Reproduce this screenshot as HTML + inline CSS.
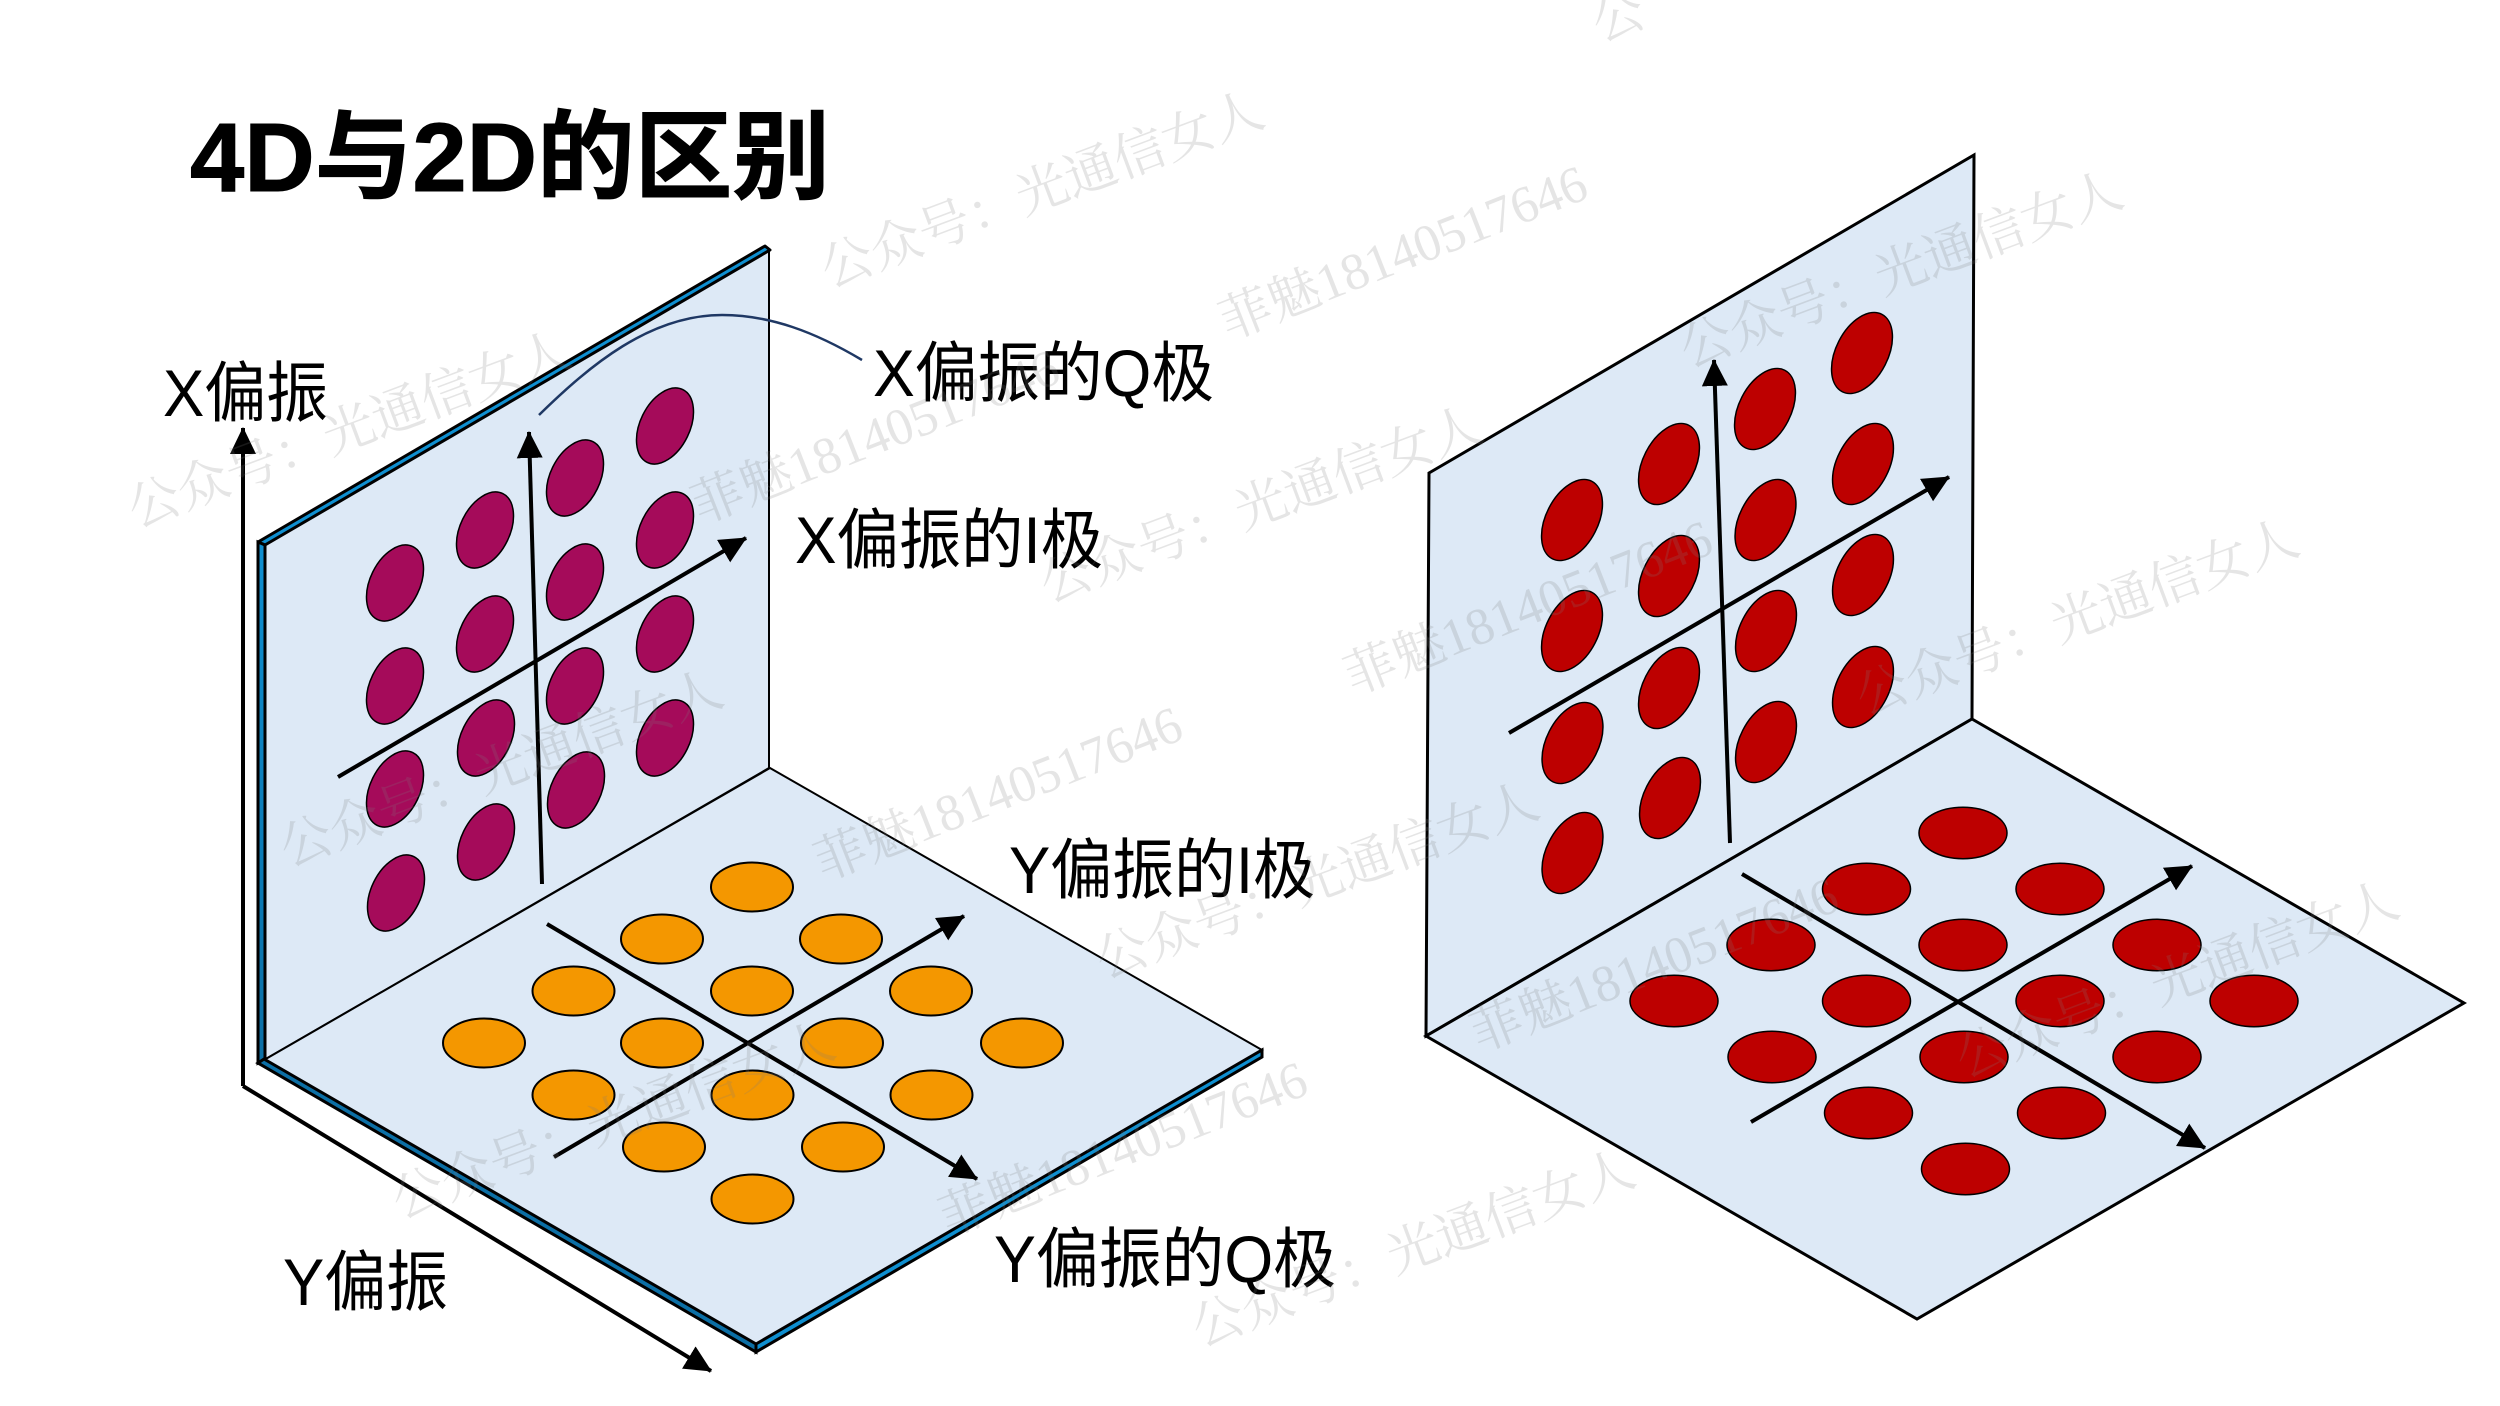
<!DOCTYPE html>
<html lang="zh-CN">
<head>
<meta charset="utf-8">
<title>4D与2D的区别</title>
<style>
html,body{margin:0;padding:0;background:#fff;width:2500px;height:1406px;overflow:hidden}
svg{display:block}
.t{font-family:"Liberation Sans","Noto Sans CJK SC",sans-serif;font-size:66px;fill:#000}
.h{font-family:"Liberation Sans","Noto Sans CJK SC",sans-serif;font-size:97px;font-weight:700;fill:#000;stroke:#000;stroke-width:1}
.w{font-family:"Liberation Serif","Noto Serif CJK SC",serif;font-size:52px;fill:#7f7f7f;fill-opacity:.2}
.p{fill:#a50b5a;stroke:#000;stroke-width:1.5}
.o{fill:#f49700;stroke:#000;stroke-width:2}
.r{fill:#bd0000;stroke:#000;stroke-width:1.5}
.a{fill:none;stroke:#000;stroke-width:4;marker-end:url(#ah)}
</style>
</head>
<body>
<svg width="2500" height="1406" viewBox="0 0 2500 1406" xmlns="http://www.w3.org/2000/svg">
<defs>
<marker id="ah" markerUnits="userSpaceOnUse" markerWidth="28" markerHeight="28" refX="26" refY="13" orient="auto">
<path d="M0 0L27 13L0 26Z" fill="#000"/>
</marker>
<linearGradient id="band" x1="0" y1="0" x2="0" y2="1">
<stop offset="0" stop-color="#0f8fd0"/>
<stop offset="1" stop-color="#0c6fa5"/>
</linearGradient>
</defs>

<!-- Left panel -->
<polygon points="264,544 769,250 769,768 264,1060" fill="#dde9f6" stroke="#000" stroke-width="2"/>
<polygon points="770,768 1262,1050 756,1344 264,1060" fill="#dde9f6" stroke="#000" stroke-width="2"/>
<polygon points="258,542 765,246 770,250 265,545" fill="#0f8fd0" stroke="#000" stroke-width="3" stroke-linejoin="round"/>
<polygon points="258,542 265,545 265,1059 258,1063" fill="url(#band)" stroke="#000" stroke-width="3"/>
<polygon points="258,1063 264,1059 756,1344 756,1352" fill="#0c6fa5" stroke="#000" stroke-width="3"/>
<polygon points="756,1344 1262,1050 1262,1057 756,1352" fill="#0f8fd0" stroke="#000" stroke-width="3"/>

<path class="a" d="M243 1086L243 428"/>
<path class="a" d="M243 1086L711 1371"/>
<path d="M539 415C590 365 650 315 722 315C770 315 815 332 862 360" fill="none" stroke="#1f3864" stroke-width="2.5"/>

<g class="p">
<ellipse cx="665" cy="426" rx="24.8" ry="40.5" transform="rotate(26 665 426)"/>
<ellipse cx="665" cy="530" rx="24.8" ry="40.5" transform="rotate(26 665 530)"/>
<ellipse cx="665" cy="634" rx="24.8" ry="40.5" transform="rotate(26 665 634)"/>
<ellipse cx="665" cy="738" rx="24.8" ry="40.5" transform="rotate(26 665 738)"/>
<ellipse cx="575" cy="478" rx="24.8" ry="40.5" transform="rotate(26 575 478)"/>
<ellipse cx="575" cy="582" rx="24.8" ry="40.5" transform="rotate(26 575 582)"/>
<ellipse cx="575" cy="686" rx="24.8" ry="40.5" transform="rotate(26 575 686)"/>
<ellipse cx="576" cy="790" rx="24.8" ry="40.5" transform="rotate(26 576 790)"/>
<ellipse cx="485" cy="530" rx="24.8" ry="40.5" transform="rotate(26 485 530)"/>
<ellipse cx="485" cy="634" rx="24.8" ry="40.5" transform="rotate(26 485 634)"/>
<ellipse cx="486" cy="738" rx="24.8" ry="40.5" transform="rotate(26 486 738)"/>
<ellipse cx="486" cy="842" rx="24.8" ry="40.5" transform="rotate(26 486 842)"/>
<ellipse cx="395" cy="583" rx="24.8" ry="40.5" transform="rotate(26 395 583)"/>
<ellipse cx="395" cy="686" rx="24.8" ry="40.5" transform="rotate(26 395 686)"/>
<ellipse cx="395" cy="789" rx="24.8" ry="40.5" transform="rotate(26 395 789)"/>
<ellipse cx="396" cy="893" rx="24.8" ry="40.5" transform="rotate(26 396 893)"/>
</g>
<path class="a" d="M542 884L529 432"/>
<path class="a" d="M338 777L746 538"/>

<g class="o">
<ellipse cx="752" cy="887" rx="41" ry="24.5"/>
<ellipse cx="662" cy="939" rx="41" ry="24.5"/>
<ellipse cx="841" cy="939" rx="41" ry="24.5"/>
<ellipse cx="573.5" cy="991" rx="41" ry="24.5"/>
<ellipse cx="752" cy="991" rx="41" ry="24.5"/>
<ellipse cx="931" cy="991" rx="41" ry="24.5"/>
<ellipse cx="484" cy="1043" rx="41" ry="24.5"/>
<ellipse cx="662" cy="1043" rx="41" ry="24.5"/>
<ellipse cx="842" cy="1043" rx="41" ry="24.5"/>
<ellipse cx="1022" cy="1043" rx="41" ry="24.5"/>
<ellipse cx="573.5" cy="1095" rx="41" ry="24.5"/>
<ellipse cx="752.5" cy="1095" rx="41" ry="24.5"/>
<ellipse cx="931.5" cy="1095" rx="41" ry="24.5"/>
<ellipse cx="664" cy="1147" rx="41" ry="24.5"/>
<ellipse cx="843" cy="1147" rx="41" ry="24.5"/>
<ellipse cx="752.5" cy="1199" rx="41" ry="24.5"/>
</g>
<path class="a" d="M547 924L977 1179"/>
<path class="a" d="M554 1157L964 916"/>

<!-- Right panel -->
<polygon points="1429,473 1974,155 1972,719 1426,1036" fill="#dde9f6" stroke="#000" stroke-width="3"/>
<polygon points="1972,719 2464,1003 1917,1319 1426,1036" fill="#dde9f6" stroke="#000" stroke-width="3"/>
<g class="r">
<ellipse cx="1862" cy="353" rx="26" ry="43.5" transform="rotate(27 1862 353)"/>
<ellipse cx="1863" cy="464" rx="26" ry="43.5" transform="rotate(27 1863 464)"/>
<ellipse cx="1863" cy="575" rx="26" ry="43.5" transform="rotate(27 1863 575)"/>
<ellipse cx="1863" cy="687" rx="26" ry="43.5" transform="rotate(27 1863 687)"/>
<ellipse cx="1765" cy="409" rx="26" ry="43.5" transform="rotate(27 1765 409)"/>
<ellipse cx="1765.5" cy="520" rx="26" ry="43.5" transform="rotate(27 1765.5 520)"/>
<ellipse cx="1766" cy="631" rx="26" ry="43.5" transform="rotate(27 1766 631)"/>
<ellipse cx="1766" cy="742" rx="26" ry="43.5" transform="rotate(27 1766 742)"/>
<ellipse cx="1669" cy="464" rx="26" ry="43.5" transform="rotate(27 1669 464)"/>
<ellipse cx="1669" cy="576" rx="26" ry="43.5" transform="rotate(27 1669 576)"/>
<ellipse cx="1669" cy="688" rx="26" ry="43.5" transform="rotate(27 1669 688)"/>
<ellipse cx="1670" cy="798" rx="26" ry="43.5" transform="rotate(27 1670 798)"/>
<ellipse cx="1572" cy="520" rx="26" ry="43.5" transform="rotate(27 1572 520)"/>
<ellipse cx="1572" cy="631" rx="26" ry="43.5" transform="rotate(27 1572 631)"/>
<ellipse cx="1572.5" cy="743" rx="26" ry="43.5" transform="rotate(27 1572.5 743)"/>
<ellipse cx="1572.5" cy="853" rx="26" ry="43.5" transform="rotate(27 1572.5 853)"/>
</g>
<path class="a" d="M1730 843L1714 360"/>
<path class="a" d="M1509 733L1949 477"/>
<g class="r">
<ellipse cx="1963" cy="833" rx="44" ry="25.7"/>
<ellipse cx="1866.5" cy="889" rx="44" ry="25.7"/>
<ellipse cx="2060" cy="889" rx="44" ry="25.7"/>
<ellipse cx="1771" cy="945" rx="44" ry="25.7"/>
<ellipse cx="1963" cy="945" rx="44" ry="25.7"/>
<ellipse cx="2157" cy="945" rx="44" ry="25.7"/>
<ellipse cx="1674" cy="1001" rx="44" ry="25.7"/>
<ellipse cx="1866.5" cy="1001" rx="44" ry="25.7"/>
<ellipse cx="2060" cy="1001" rx="44" ry="25.7"/>
<ellipse cx="2254" cy="1001" rx="44" ry="25.7"/>
<ellipse cx="1772" cy="1057" rx="44" ry="25.7"/>
<ellipse cx="1964" cy="1057" rx="44" ry="25.7"/>
<ellipse cx="2157" cy="1057" rx="44" ry="25.7"/>
<ellipse cx="1868.5" cy="1113" rx="44" ry="25.7"/>
<ellipse cx="2061.5" cy="1113" rx="44" ry="25.7"/>
<ellipse cx="1965.5" cy="1169" rx="44" ry="25.7"/>
</g>
<path class="a" d="M1742 874L2205 1148"/>
<path class="a" d="M1751 1122L2192 866"/>

<!-- Text -->
<text class="h" x="190" y="191" textLength="640" lengthAdjust="spacingAndGlyphs">4D与2D的区别</text>
<text class="t" x="163" y="416" textLength="165" lengthAdjust="spacingAndGlyphs">X偏振</text>
<text class="t" x="873" y="396" textLength="341" lengthAdjust="spacingAndGlyphs">X偏振的Q极</text>
<text class="t" x="795" y="563" textLength="308" lengthAdjust="spacingAndGlyphs">X偏振的I极</text>
<text class="t" x="1009" y="893" textLength="306" lengthAdjust="spacingAndGlyphs">Y偏振的I极</text>
<text class="t" x="994" y="1282" textLength="342" lengthAdjust="spacingAndGlyphs">Y偏振的Q极</text>
<text class="t" x="283" y="1305" textLength="165" lengthAdjust="spacingAndGlyphs">Y偏振</text>

<!-- Watermarks -->
<g class="w">
<text transform="translate(829 288) rotate(-20.5)">公众号：光通信女人</text>
<text transform="translate(136 528) rotate(-20.5)">公众号：光通信女人</text>
<text transform="translate(1048 603) rotate(-20.5)">公众号：光通信女人</text>
<text transform="translate(1688 368) rotate(-20.5)">公众号：光通信女人</text>
<text transform="translate(288 867) rotate(-20.5)">公众号：光通信女人</text>
<text transform="translate(1104 979) rotate(-20.5)">公众号：光通信女人</text>
<text transform="translate(1864 716) rotate(-20.5)">公众号：光通信女人</text>
<text transform="translate(1964 1078) rotate(-20.5)">公众号：光通信女人</text>
<text transform="translate(400 1219) rotate(-20.5)">公众号：光通信女人</text>
<text transform="translate(1200 1347) rotate(-20.5)">公众号：光通信女人</text>
<text transform="translate(1600 42) rotate(-20.5)">公</text>
<text transform="translate(1228 340) rotate(-21.5)">菲魅18140517646</text>
<text transform="translate(700 524) rotate(-21.5)">菲魅18140517646</text>
<text transform="translate(1353 695) rotate(-21.5)">菲魅18140517646</text>
<text transform="translate(823 881) rotate(-21.5)">菲魅18140517646</text>
<text transform="translate(1479 1052) rotate(-21.5)">菲魅18140517646</text>
<text transform="translate(948 1236) rotate(-21.5)">菲魅18140517646</text>
</g>
</svg>
</body>
</html>
